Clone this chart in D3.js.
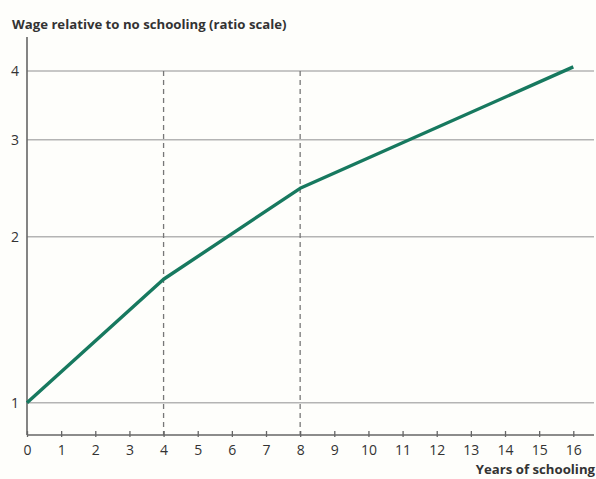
<!DOCTYPE html>
<html>
<head>
<meta charset="utf-8">
<script src="https://cdn.jsdelivr.net/npm/d3@7"></script>
<style>
  html, body { margin: 0; padding: 0; background: #fefefb; }
  svg { display: block; font-family: "Open Sans", "Noto Sans", sans-serif; }
</style>
</head>
<body>
<svg id="chart" width="596" height="479"></svg>
<script>
// Years of schooling and the wage relative to no schooling
const years = [0, 4, 8, 16];
const wageRatio = [1, 1.675, 2.45, 4.07];
const xTicks = d3.range(0, 17);
const yTicks = [1, 2, 3, 4];
const dashedYears = [4, 8];
const titleText = "Wage relative to no schooling (ratio scale)";
const xLabelText = "Years of schooling";

const svg = d3.select("#chart");
const plotLeft = 27, plotRight = 594, plotTop = 37, plotBottom = 435;

const x = d3.scaleLinear().domain([0, 16]).range([plotLeft, 573.3]);
const y = d3.scaleLog().base(2).domain([1, 4]).range([402.7, 71]);

const ink = "#333";
const fontStack = "'Open Sans', 'Noto Sans', sans-serif";

// horizontal grid lines
svg.append("g")
  .selectAll("line")
  .data(yTicks)
  .join("line")
  .attr("x1", plotLeft).attr("x2", plotRight)
  .attr("y1", d => y(d)).attr("y2", d => y(d))
  .attr("stroke", "#b4b4b4").attr("stroke-width", 1.5);

// dashed reference lines
svg.append("g")
  .selectAll("line")
  .data(dashedYears)
  .join("line")
  .attr("x1", d => x(d)).attr("x2", d => x(d))
  .attr("y1", y(4)).attr("y2", plotBottom)
  .attr("stroke", "#777").attr("stroke-width", 1.3)
  .attr("stroke-dasharray", "5,4");

// y axis
const yAxis = svg.append("g").attr("transform", `translate(${plotLeft},0)`)
  .call(d3.axisLeft(y).tickValues(yTicks).tickFormat(d3.format("d")).tickSize(0).tickPadding(8));
yAxis.select(".domain").remove();
yAxis.append("line")
  .attr("x1", 0).attr("x2", 0).attr("y1", plotTop).attr("y2", plotBottom)
  .attr("stroke", "#666").attr("stroke-width", 1.6);
yAxis.selectAll("text").attr("fill", ink).attr("font-size", 14)
  .attr("font-family", fontStack);

// x axis with ticks pointing up
const xAxis = svg.append("g").attr("transform", `translate(0,${plotBottom})`)
  .call(d3.axisBottom(x).tickValues(xTicks).tickFormat(d3.format("d")).tickSize(0).tickPadding(10));
xAxis.select(".domain").remove();
xAxis.append("line")
  .attr("x1", plotLeft).attr("x2", plotRight).attr("y1", 0).attr("y2", 0)
  .attr("stroke", "#666").attr("stroke-width", 1.6);
xAxis.selectAll(".tick line").remove();
xAxis.selectAll(".tick").append("line")
  .attr("y1", -4).attr("y2", 2)
  .attr("stroke", "#666").attr("stroke-width", 1.3);
xAxis.selectAll("text").attr("fill", ink).attr("font-size", 14)
  .attr("font-family", fontStack);

// wage line
const pts = years.map((yr, i) => [yr, wageRatio[i]]);
svg.append("path")
  .datum(pts)
  .attr("fill", "none")
  .attr("stroke", "#17795f")
  .attr("stroke-width", 3.4)
  .attr("stroke-linejoin", "round")
  .attr("d", d3.line().x(d => x(d[0])).y(d => y(d[1])));

// titles
svg.append("text")
  .attr("x", 12).attr("y", 29)
  .attr("font-size", 13.2).attr("font-weight", "bold").attr("fill", ink)
  .text(titleText);

svg.append("text")
  .attr("x", 595).attr("y", 474)
  .attr("text-anchor", "end")
  .attr("font-size", 13.2).attr("font-weight", "bold").attr("fill", ink)
  .text(xLabelText);
</script>
</body>
</html>
